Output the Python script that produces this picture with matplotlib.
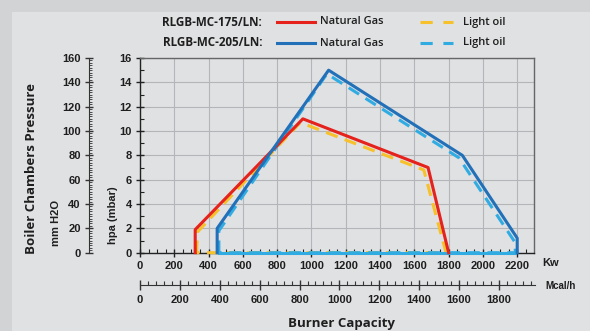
import matplotlib
matplotlib.use("Agg")
import matplotlib.pyplot as plt
from matplotlib.patches import Rectangle
from matplotlib.lines import Line2D
from matplotlib.ticker import MultipleLocator

# ---- data (kW, hPa) ----
gas175_kw = [322, 322, 950, 1680, 1800]
gas175_hpa = [0, 1.9, 11.0, 7.0, 0]
oil175_kw = [330, 335, 935, 1655, 1785, 330]
oil175_hpa = [0, 1.7, 10.7, 6.8, 0, 0]
gas205_kw = [450, 450, 1100, 1880, 2200, 2200]
gas205_hpa = [0, 2.0, 15.0, 8.0, 1.2, 0]
oil205_kw = [460, 460, 1090, 1860, 2185, 2190, 460]
oil205_hpa = [0, 1.8, 14.7, 7.8, 0.9, 0, 0]

kw_ticks = [0, 200, 400, 600, 800, 1000, 1200, 1400, 1600, 1800, 2000, 2200]
mcal_ticks = [0, 200, 400, 600, 800, 1000, 1200, 1400, 1600, 1800]
hpa_ticks = [0, 2, 4, 6, 8, 10, 12, 14, 16]
mm_ticks = [0, 20, 40, 60, 80, 100, 120, 140, 160]
models = ["RLGB-MC-175/LN:", "RLGB-MC-205/LN:"]
fuels = ["Natural Gas", "Light oil"]

RED = "#e5221c"
DBLUE = "#2170b8"
YEL = "#f6c12b"
LBLUE = "#31ace2"
TXT = "#1e1e1e"
KW_PER_MCAL = 1.163

W, H = 590, 331
fig = plt.figure(figsize=(W / 100, H / 100), dpi=100)
fig.patch.set_facecolor("#d2d3d5")
bg = Rectangle((12 / W, 0), 1, 1 - 12 / H, transform=fig.transFigure,
               facecolor="#e0e1e3", edgecolor="none", zorder=-10)
fig.add_artist(bg)

def fx(px):
    return px / W

def fy(py):
    return 1 - py / H

tickfont = dict(family="Liberation Sans", weight="bold", size=8, color=TXT)

def style_labels(a):
    for lbl in a.get_xticklabels() + a.get_yticklabels():
        lbl.set_fontfamily("Liberation Sans")
        lbl.set_fontweight("bold")
        lbl.set_fontsize(8)
        lbl.set_color(TXT)

# main axes
x0, x1, y0, y1 = 140, 533.5, 252.7, 58
ax = fig.add_axes([fx(x0), fy(y0), fx(x1 - x0), (y0 - y1) / H])
ax.set_facecolor("none")
ax.set_xlim(0, 2295)
ax.set_ylim(0, 16)
ax.set_xticks(kw_ticks)
ax.set_yticks(hpa_ticks)
ax.xaxis.set_minor_locator(MultipleLocator(50))
ax.yaxis.set_minor_locator(MultipleLocator(1))
ax.grid(True, which="major", color="#b4b5b8", lw=0.8)
for s in ax.spines.values():
    s.set_color("#666666")
    s.set_linewidth(1.0)
ax.spines["left"].set_color("#222222")
ax.spines["bottom"].set_color("#222222")
ax.tick_params(axis="both", which="major", direction="inout", length=6, width=1, color="#222222", pad=3)
ax.tick_params(axis="both", which="minor", direction="in", length=3, width=0.8, color="#222222")
ax.tick_params(top=False, right=False, which="both")
style_labels(ax)
ax.set_axisbelow(True)

ax.plot(oil175_kw, oil175_hpa, color=YEL, lw=2.2, ls=(0, (4, 2.5)), zorder=3, clip_on=False)
ax.plot(oil205_kw, oil205_hpa, color=LBLUE, lw=2.2, ls=(0, (4, 2.5)), zorder=3, clip_on=False)
ax.plot([460, 2190], [0, 0], color=LBLUE, lw=2.2, zorder=3, clip_on=False)
ax.plot(gas175_kw, gas175_hpa, color=RED, lw=2.2, zorder=4, clip_on=False)
ax.plot(gas205_kw, gas205_hpa, color=DBLUE, lw=2.2, zorder=4, clip_on=False)

fig.text(fx(113), fy(215), "hpa (mbar)", rotation=90, ha="center", va="center", **tickfont)
fig.text(fx(551), fy(263), "Kw", ha="center", va="center", **tickfont)

# secondary left axis mm H2O
axm = fig.add_axes([fx(89), fy(y0), 0.0001, (y0 - y1) / H])
axm.set_facecolor("none")
axm.set_ylim(0, 160)
axm.set_xticks([])
axm.set_yticks(mm_ticks)
axm.yaxis.set_minor_locator(MultipleLocator(2))
for k in ["top", "right", "bottom"]:
    axm.spines[k].set_visible(False)
axm.spines["left"].set_color("#333333")
axm.tick_params(axis="y", which="major", direction="inout", length=6, width=1, color="#333333", pad=3)
axm.tick_params(axis="y", which="minor", direction="in", length=2.5, width=0.6, color="#333333")
style_labels(axm)
fig.text(fx(56), fy(223), "mm H2O", rotation=90, ha="center", va="center", **tickfont)
fig.text(fx(32), fy(169), "Boiler Chambers Pressure", rotation=90, ha="center", va="center",
         family="Open Sans", weight="bold", size=9.5, color=TXT)

# secondary bottom axis Mcal/h
axb = fig.add_axes([fx(x0), fy(285), fx(535 - x0), 0.0001])
axb.set_facecolor("none")
axb.set_xlim(0, (535 - x0) / (x1 - x0) * 2295 / KW_PER_MCAL)
axb.set_yticks([])
axb.set_xticks(mcal_ticks)
axb.xaxis.set_minor_locator(MultipleLocator(40))
for k in ["top", "right", "left"]:
    axb.spines[k].set_visible(False)
axb.spines["bottom"].set_color("#333333")
axb.tick_params(axis="x", which="major", direction="inout", length=7, width=1, color="#333333", pad=4)
axb.tick_params(axis="x", which="minor", direction="in", length=3, width=0.8, color="#333333")
style_labels(axb)
fig.text(fx(561), fy(286), "Mcal/h", ha="center", va="center",
         family="Liberation Sans", weight="bold", size=7, color=TXT)
fig.text(fx(341), fy(323), "Burner Capacity", ha="center", va="center",
         family="Open Sans", weight="bold", size=9.5, color=TXT)

# legend
lfont = dict(family="Open Sans", weight="semibold", size=8, color=TXT)
rows = [(22, RED, YEL), (43, DBLUE, LBLUE)]
for (yy, cg, co), name in zip(rows, models):
    fig.text(fx(262), fy(yy), name, ha="right", va="center",
             family="Open Sans", weight="bold", size=8.4, color=TXT)
    fig.add_artist(Line2D([fx(277), fx(315)], [fy(yy), fy(yy)], color=cg, lw=2.2,
                          transform=fig.transFigure))
    fig.text(fx(320), fy(yy), fuels[0], ha="left", va="center", **lfont)
    fig.add_artist(Line2D([fx(420), fx(453)], [fy(yy), fy(yy)], color=co, lw=2.2,
                          ls=(0, (4, 3.5)), transform=fig.transFigure))
    fig.text(fx(463), fy(yy), fuels[1], ha="left", va="center", **lfont)

fig.savefig("out.png", dpi=100, facecolor=fig.get_facecolor())
